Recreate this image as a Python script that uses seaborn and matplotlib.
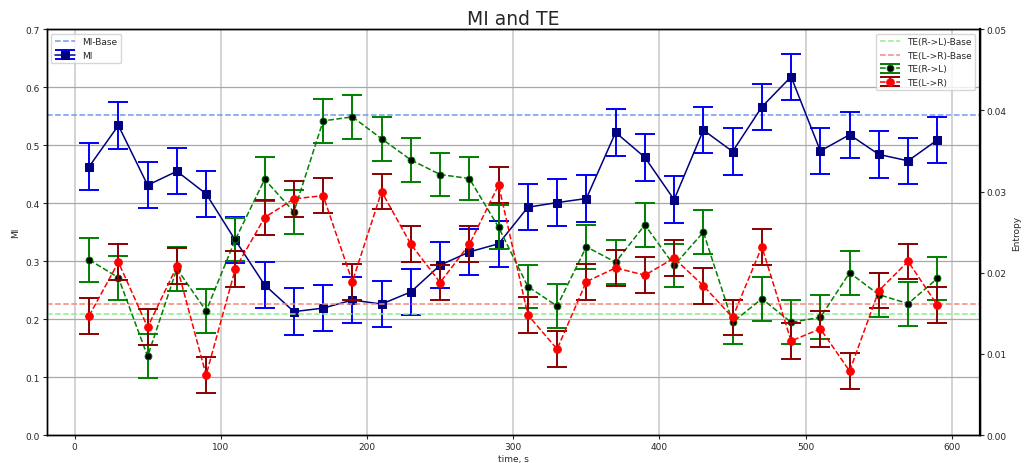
import numpy as np
import pandas as pd
import matplotlib
matplotlib.use("Agg")
import matplotlib.pyplot as plt
import seaborn as sns
from matplotlib.legend_handler import HandlerTuple

# ---- data ----
time_s = [10, 30, 50, 70, 90, 110, 130, 150, 170, 190, 210, 230, 250, 270, 290,
          310, 330, 350, 370, 390, 410, 430, 450, 470, 490, 510, 530, 550, 570, 590]
mi = [0.463, 0.534, 0.431, 0.455, 0.416, 0.336, 0.259, 0.213, 0.219, 0.233,
      0.226, 0.247, 0.293, 0.316, 0.330, 0.393, 0.401, 0.408, 0.522, 0.479,
      0.406, 0.526, 0.489, 0.566, 0.618, 0.490, 0.518, 0.484, 0.473, 0.509]
mi_err = [0.04] * 30
mi_base = 0.552

te_rl = [0.0216, 0.0194, 0.0097, 0.0205, 0.0153, 0.0241, 0.0315, 0.0275, 0.0387, 0.0392,
         0.0365, 0.0339, 0.0321, 0.0316, 0.0256, 0.0183, 0.0159, 0.0232, 0.0213, 0.0259,
         0.0209, 0.0250, 0.0139, 0.0168, 0.0139, 0.0145, 0.0200, 0.0173, 0.0162, 0.0193]
te_rl_err = [0.0027] * 30
te_lr = [0.0147, 0.0213, 0.0133, 0.0208, 0.0074, 0.0205, 0.0268, 0.0291, 0.0295, 0.0189,
         0.0300, 0.0235, 0.0188, 0.0235, 0.0308, 0.0148, 0.0106, 0.0189, 0.0206, 0.0197,
         0.0218, 0.0184, 0.0145, 0.0232, 0.0116, 0.0131, 0.0079, 0.0178, 0.0214, 0.0160]
te_lr_err = [0.0022] * 30
te_rl_base = 0.01488
te_lr_base = 0.01620

df = pd.DataFrame({"time": time_s, "MI": mi, "TE_RL": te_rl, "TE_LR": te_lr})

sns.set_theme(style="ticks")
plt.rcParams["font.family"] = ["DejaVu Sans"]
plt.rcParams["font.size"] = 6

fig, ax1 = plt.subplots(figsize=(10.27, 4.64), dpi=100)
fig.subplots_adjust(left=0.0455, right=0.954, top=0.935, bottom=0.060)
ax2 = ax1.twinx()

# grid
ax1.grid(axis="x", color="#cccccc", lw=1.2)
ax1.grid(axis="y", color="#a8a8a8", lw=0.9)
ax1.set_axisbelow(True)

# ---- MI (left axis) ----
h_mib = ax1.axhline(mi_base, color="#6f9af0", ls="--", lw=1.1, label="MI-Base")
eb_mi = ax1.errorbar(df["time"], df["MI"], yerr=mi_err, fmt="none", ecolor="blue",
                     elinewidth=1.4, capsize=7, capthick=1.4)
sns.lineplot(data=df, x="time", y="MI", ax=ax1, color="navy", lw=1.1, marker="s",
             markersize=5.5, markeredgecolor="navy", legend=False)
h_mi_line = ax1.lines[-1]

# ---- TE (right axis) ----
h_rlb = ax2.axhline(te_rl_base, color="#90ee90", ls="--", lw=1.1)
h_lrb = ax2.axhline(te_lr_base, color="#f4887f", ls="--", lw=1.1)
eb_rl = ax2.errorbar(df["time"], df["TE_RL"], yerr=te_rl_err, fmt="none", ecolor="green",
                     elinewidth=1.4, capsize=7, capthick=1.4)
sns.lineplot(data=df, x="time", y="TE_RL", ax=ax2, color="green", lw=1.1, ls="--",
             marker="o", markersize=5, markerfacecolor="black", markeredgecolor="green",
             markeredgewidth=0.6, legend=False)
h_rl_line = ax2.lines[-1]
eb_lr = ax2.errorbar(df["time"], df["TE_LR"], yerr=te_lr_err, fmt="none", ecolor="darkred",
                     elinewidth=1.4, capsize=7, capthick=1.4)
sns.lineplot(data=df, x="time", y="TE_LR", ax=ax2, color="red", lw=1.1, ls="--",
             marker="o", markersize=5.5, markerfacecolor="red", markeredgecolor="red",
             legend=False)
h_lr_line = ax2.lines[-1]

# ---- axes ----
ax1.set_xlim(-19, 619)
ax1.set_ylim(0, 0.7)
ax2.set_ylim(0, 0.05)
ax1.set_xticks([0, 100, 200, 300, 400, 500, 600])
ax1.set_yticks(np.arange(0, 0.71, 0.1))
ax2.set_yticks(np.arange(0, 0.051, 0.01))
ax2.set_yticklabels([f"{v:.2f}" for v in np.arange(0, 0.051, 0.01)])
ax1.set_yticklabels([f"{v:.1f}" for v in np.arange(0, 0.71, 0.1)])
ax1.set_xlabel("time, s", fontsize=6.5, labelpad=2)
ax1.set_ylabel("MI", fontsize=6.5, labelpad=4)
ax2.set_ylabel("Entropy", fontsize=6.5, labelpad=4)
ax1.set_title("MI and TE", fontsize=13.5, pad=4)
for ax in (ax1, ax2):
    ax.tick_params(labelsize=6.5, length=3, width=0.8, pad=2)
    for s in ax.spines.values():
        s.set_color("black")
        s.set_linewidth(1.0)
ax2.spines["right"].set_linewidth(1.6)
ax2.grid(False)

hm = {tuple: HandlerTuple(ndivide=1, pad=0)}
leg1 = ax1.legend([h_mib, (eb_mi, h_mi_line)], ["MI-Base", "MI"], handler_map=hm,
                  loc="upper left", fontsize=6.5, frameon=True, framealpha=0.8,
                  handlelength=2.2)
leg2 = ax2.legend([h_rlb, h_lrb, (eb_rl, h_rl_line), (eb_lr, h_lr_line)],
                  ["TE(R->L)-Base", "TE(L->R)-Base", "TE(R->L)", "TE(L->R)"],
                  handler_map=hm, loc="upper right", fontsize=6.5, frameon=True,
                  framealpha=0.8, handlelength=2.2)

fig.savefig("out.png", dpi=100)
